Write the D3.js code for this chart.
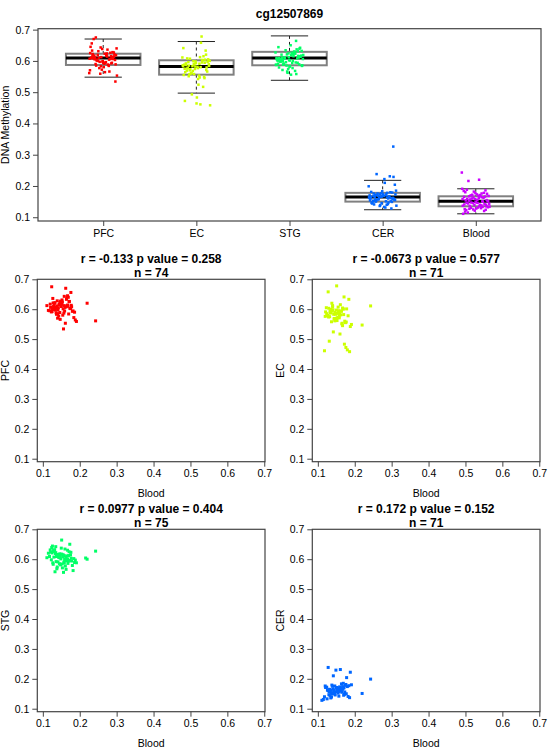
<!DOCTYPE html>
<html>
<head>
<meta charset="utf-8">
<script src="https://cdn.jsdelivr.net/npm/d3@7"></script>
<style>
  body { margin: 0; background: #fff; }
  svg { display: block; font-family: "Liberation Sans", Arial, sans-serif; }
  .tick text { font-size: 10.5px; fill: #000; }
  .tick line { stroke: #444; }
</style>
</head>
<body>
<script>
const probe = 'cg12507869';
const categories = ['PFC', 'EC', 'STG', 'CER', 'Blood'];
const colors = ['#FF0000', '#CCFF00', '#00FF66', '#0066FF', '#CC00FF'];

// per-sample values (same index = same subject); null = missing
const blood = [0.243, 0.220, 0.216, 0.124, 0.158, 0.141, 0.176, 0.130, 0.152, 0.146,
  0.188, 0.120, 0.163, 0.137, 0.171, 0.127, 0.155, 0.149, 0.180, 0.133,
  0.160, 0.143, 0.169, 0.115, 0.166, 0.139, 0.184, 0.129, 0.157, 0.151,
  0.173, 0.123, 0.162, 0.145, 0.191, 0.135, 0.153, 0.140, 0.177, 0.126,
  0.164, 0.147, 0.168, 0.131, 0.159, 0.142, 0.182, 0.111, 0.167, 0.136,
  0.175, 0.128, 0.154, 0.150, 0.172, 0.134, 0.161, 0.144, 0.186, 0.121,
  0.165, 0.138, 0.170, 0.132, 0.156, 0.146, 0.178, 0.125, 0.158, 0.140,
  0.167, 0.135, 0.148, 0.118, 0.151, null];

const pfc = [0.561, 0.620, null, 0.675, 0.612, 0.598, 0.656, 0.604, 0.631, 0.589,
  0.564, 0.617, 0.608, 0.583, 0.625, 0.636, 0.601, 0.614, 0.593, 0.622,
  0.606, 0.577, 0.640, 0.596, 0.611, 0.628, 0.572, 0.609, 0.587, 0.619,
  0.603, 0.591, 0.670, 0.615, 0.559, 0.607, 0.624, 0.585, 0.613, 0.599,
  0.633, 0.566, 0.610, 0.618, 0.594, 0.605, 0.594, 0.612, 0.645, 0.588,
  0.602, 0.621, 0.580, 0.609, 0.626, 0.597, 0.553, 0.616, 0.590, 0.606,
  0.638, 0.611, 0.584, 0.600, 0.534, 0.623, 0.608, 0.592, 0.643, 0.570,
  0.614, 0.604, 0.627, 0.595, 0.617, null];

const ec = [0.611, 0.547, null, 0.585, 0.571, 0.598, 0.472, 0.603, 0.562, 0.589,
  0.542, 0.576, 0.594, 0.558, 0.641, 0.580, 0.607, 0.566, 0.464, 0.592,
  0.517, 0.583, 0.600, null, 0.553, 0.596, 0.633, 0.574, 0.588, 0.678,
  0.560, 0.605, 0.581, 0.569, 0.549, 0.599, 0.586, 0.612, 0.557, 0.579,
  0.593, 0.564, 0.602, 0.493, 0.584, 0.524, 0.578, null, 0.604, 0.590,
  0.555, 0.658, 0.573, 0.597, 0.483, 0.587, 0.615, 0.568, 0.458, 0.591,
  0.551, 0.620, 0.582, 0.575, 0.595, 0.561, 0.601, null, 0.577, 0.608,
  0.545, 0.589, 0.583, 0.461, 0.570, null];

const stg = [0.627, 0.600, 0.604, 0.639, 0.612, 0.591, 0.623, 0.607, 0.584, 0.618,
  0.597, 0.631, 0.566, 0.609, 0.625, 0.588, 0.615, 0.601, 0.579, 0.558,
  0.634, 0.606, 0.593, 0.620, 0.611, 0.574, 0.602, 0.629, 0.590, 0.617,
  0.650, 0.598, 0.608, 0.585, 0.588, 0.622, 0.571, 0.613, 0.603, 0.644,
  0.595, 0.610, 0.586, 0.626, 0.599, 0.616, 0.562, 0.605, 0.630, 0.592,
  0.614, 0.583, 0.608, 0.637, 0.596, 0.619, 0.577, 0.610, 0.589, 0.624,
  0.601, 0.568, 0.612, 0.632, 0.556, 0.605, 0.594, 0.621, 0.587, 0.615,
  0.600, 0.642, 0.581, 0.609, 0.664, null];

const cer = [0.199, 0.151, null, 0.172, 0.158, 0.166, 0.181, 0.147, 0.169, 0.155,
  0.222, 0.176, 0.161, 0.139, 0.170, 0.163, 0.152, 0.229, 0.174, 0.144,
  0.167, 0.158, 0.185, 0.131, 0.165, 0.149, 0.177, 0.160, 0.142, 0.171,
  0.156, null, 0.168, 0.153, 0.180, 0.136, 0.164, 0.175, 0.150, 0.162,
  0.183, 0.146, 0.167, 0.157, 0.173, 0.210, 0.141, 0.128, 0.166, 0.154,
  0.178, 0.238, 0.159, 0.169, 0.148, null, 0.231, 0.163, 0.137, 0.171,
  0.155, 0.179, 0.145, 0.165, 0.160, 0.176, 0.204, 0.133, 0.168, 0.151,
  0.174, 0.162, null, 0.140, 0.157, 0.326];

// boxplot statistics (PFC, EC, STG, CER, Blood)
const boxLow = [0.548, 0.497, 0.538, 0.124, 0.111];
const boxQ1 = [0.587, 0.556, 0.586, 0.150, 0.135];
const boxMedian = [0.609, 0.582, 0.609, 0.165, 0.151];
const boxQ3 = [0.623, 0.602, 0.629, 0.178, 0.167];
const boxHigh = [0.670, 0.662, 0.680, 0.218, 0.191];

const yTicks = [0.1, 0.2, 0.3, 0.4, 0.5, 0.6, 0.7];
const xTicks = [0.1, 0.2, 0.3, 0.4, 0.5, 0.6, 0.7];

// scatter panels: tissue vs blood
const panelTissues = ['PFC', 'EC', 'STG', 'CER'];
const corrR = ['-0.133', '-0.0673', '0.0977', '0.172'];
const corrP = ['0.258', '0.577', '0.404', '0.152'];

const tissueData = [pfc, ec, stg, cer, blood];

const svg = d3.select('body').append('svg')
  .attr('width', 550)
  .attr('height', 750);

const frameColor = '#444';

// ---------- top boxplot ----------
const boxArea = { left: 38, right: 541, top: 28.7, bottom: 221 };

const xBox = d3.scaleLinear().domain([0.3, 5.7]).range([boxArea.left, boxArea.right]);
const yBox = d3.scaleLinear().domain([0.088, 0.703]).range([boxArea.bottom, boxArea.top]);

const gTop = svg.append('g');

gTop.append('text')
  .attr('x', (boxArea.left + boxArea.right) / 2)
  .attr('y', 18)
  .attr('text-anchor', 'middle')
  .style('font-size', '12px')
  .style('font-weight', 'bold')
  .text(probe);

const boxW = 0.4;
const capW = 0.2;
categories.forEach((cat, i) => {
  const cx = i + 1;
  const g = gTop.append('g');
  g.append('line')
    .attr('x1', xBox(cx)).attr('x2', xBox(cx))
    .attr('y1', yBox(boxHigh[i])).attr('y2', yBox(boxQ3[i]))
    .attr('stroke', '#222').attr('stroke-dasharray', '3,3');
  g.append('line')
    .attr('x1', xBox(cx)).attr('x2', xBox(cx))
    .attr('y1', yBox(boxQ1[i])).attr('y2', yBox(boxLow[i]))
    .attr('stroke', '#222').attr('stroke-dasharray', '3,3');
  [boxHigh[i], boxLow[i]].forEach(v => {
    g.append('line')
      .attr('x1', xBox(cx - capW)).attr('x2', xBox(cx + capW))
      .attr('y1', yBox(v)).attr('y2', yBox(v))
      .attr('stroke', '#222');
  });
  g.append('rect')
    .attr('x', xBox(cx - boxW))
    .attr('y', yBox(boxQ3[i]))
    .attr('width', xBox(cx + boxW) - xBox(cx - boxW))
    .attr('height', yBox(boxQ1[i]) - yBox(boxQ3[i]))
    .attr('fill', 'none')
    .attr('stroke', '#808080')
    .attr('stroke-width', 2);
  g.append('line')
    .attr('x1', xBox(cx - boxW)).attr('x2', xBox(cx + boxW))
    .attr('y1', yBox(boxMedian[i])).attr('y2', yBox(boxMedian[i]))
    .attr('stroke', '#000').attr('stroke-width', 3);

  // jittered points (deterministic spread)
  const vals = tissueData[i].filter(v => v != null);
  g.selectAll('rect.pt')
    .data(vals)
    .enter().append('rect')
    .attr('class', 'pt')
    .attr('x', (d, j) => xBox(cx + ((j * 0.618034) % 1 - 0.5) * 0.3) - 1.25)
    .attr('y', d => yBox(d) - 1.25)
    .attr('width', 2.5)
    .attr('height', 2.5)
    .attr('fill', colors[i]);
});

gTop.append('rect')
  .attr('x', boxArea.left).attr('y', boxArea.top)
  .attr('width', boxArea.right - boxArea.left)
  .attr('height', boxArea.bottom - boxArea.top)
  .attr('fill', 'none')
  .attr('stroke', frameColor)
  .attr('stroke-width', 1.2);

const yAxisTop = gTop.append('g')
  .attr('transform', `translate(${boxArea.left},0)`)
  .call(d3.axisLeft(yBox).tickValues(yTicks).tickFormat(d3.format('.1f')).tickSize(5).tickPadding(3));
yAxisTop.select('.domain').remove();

const xAxisTop = gTop.append('g')
  .attr('transform', `translate(0,${boxArea.bottom})`)
  .call(d3.axisBottom(xBox).tickValues([1, 2, 3, 4, 5]).tickFormat((d, i) => categories[i]).tickSize(5).tickPadding(4));
xAxisTop.select('.domain').remove();

gTop.append('text')
  .attr('transform', `translate(9,${(boxArea.top + boxArea.bottom) / 2}) rotate(-90)`)
  .attr('text-anchor', 'middle')
  .style('font-size', '10.5px')
  .text('DNA Methylation');

// ---------- scatter panels ----------
const panelW = 227.7;
const panelH = 182.4;
const panelPos = [
  { left: 37.3, top: 279.3 },
  { left: 312.3, top: 279.3 },
  { left: 37.3, top: 529.3 },
  { left: 312.3, top: 529.3 }
];

panelTissues.forEach((name, k) => {
  const pos = panelPos[k];
  const values = tissueData[k];
  const pairs = blood.map((b, j) => ({ x: b, y: values[j] }))
    .filter(d => d.x != null && d.y != null);

  const xs = d3.scaleLinear().domain([0.085, 0.702]).range([pos.left, pos.left + panelW]);
  const ys = d3.scaleLinear().domain([0.09, 0.70]).range([pos.top + panelH, pos.top]);

  const g = svg.append('g');

  g.append('text')
    .attr('x', pos.left + panelW / 2)
    .attr('y', pos.top - 16.8)
    .attr('text-anchor', 'middle')
    .style('font-size', '12px')
    .style('font-weight', 'bold')
    .text(`r = ${corrR[k]} p value = ${corrP[k]}`);
  g.append('text')
    .attr('x', pos.left + panelW / 2)
    .attr('y', pos.top - 2.5)
    .attr('text-anchor', 'middle')
    .style('font-size', '12px')
    .style('font-weight', 'bold')
    .text(`n = ${pairs.length}`);

  g.selectAll('rect.pt')
    .data(pairs)
    .enter().append('rect')
    .attr('class', 'pt')
    .attr('x', d => xs(d.x) - 1.5)
    .attr('y', d => ys(d.y) - 1.5)
    .attr('width', 3)
    .attr('height', 3)
    .attr('fill', colors[k]);

  g.append('rect')
    .attr('x', pos.left).attr('y', pos.top)
    .attr('width', panelW).attr('height', panelH)
    .attr('fill', 'none')
    .attr('stroke', frameColor)
    .attr('stroke-width', 1.2);

  const ya = g.append('g')
    .attr('transform', `translate(${pos.left},0)`)
    .call(d3.axisLeft(ys).tickValues(yTicks).tickFormat(d3.format('.1f')).tickSize(5).tickPadding(3));
  ya.select('.domain').remove();

  const xa = g.append('g')
    .attr('transform', `translate(0,${pos.top + panelH})`)
    .call(d3.axisBottom(xs).tickValues(xTicks).tickFormat(d3.format('.1f')).tickSize(5).tickPadding(3));
  xa.select('.domain').remove();

  g.append('text')
    .attr('x', pos.left + panelW / 2)
    .attr('y', pos.top + panelH + 35)
    .attr('text-anchor', 'middle')
    .style('font-size', '10.5px')
    .text('Blood');

  g.append('text')
    .attr('transform', `translate(${pos.left - 28},${pos.top + panelH / 2}) rotate(-90)`)
    .attr('text-anchor', 'middle')
    .style('font-size', '10.5px')
    .text(name);
});
</script>
</body>
</html>
